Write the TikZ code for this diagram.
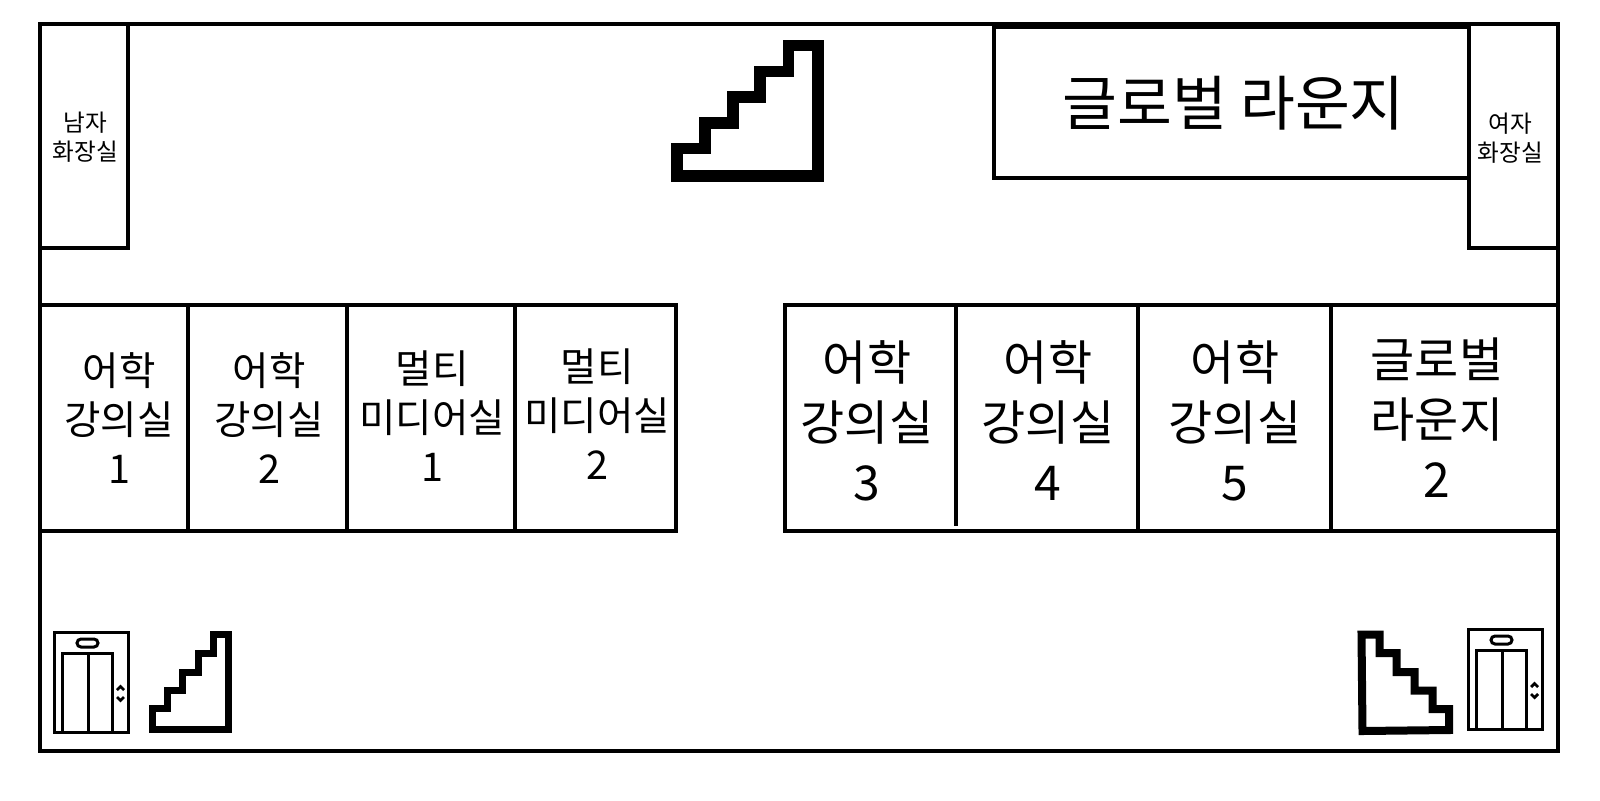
\documentclass[tikz,border=0pt]{standalone}
\usepackage{fontspec}
\setmainfont{Noto Sans CJK KR}
\tikzset{
    elevator/.pic = {
        \draw[line width=1.5pt] (1,0) rectangle (75,100);
        \draw[line width=1.5pt] (9,100) -- (9,21) -- (59,21) -- (59,100);
        \draw[line width=1.5pt] (35,21) -- (35,100);
        \draw[line width=1.5pt, rounded corners=2pt] (24,7) rectangle (45,15);
        \draw[line width=1.4pt] (64,58) -- (67.5,54.5) -- (71,58);
        \draw[line width=1.4pt] (64,65) -- (67.5,68.5) -- (71,65);
    }
}
\begin{document}
\begin{tikzpicture}[x=0.5pt,y=-0.5pt]
        \tikzset{wall/.style = {line width=2pt}}
        \tikzset{stair/.style = {miter limit=10}}
        \tikzset{smalllabel/.style = {align=center, inner sep=0pt, font=\fontsize{11.8pt}{14.2pt}\selectfont}}
        \tikzset{leftlabel/.style = {align=center, inner sep=0pt, font=\fontsize{19.8pt}{24.5pt}\selectfont}}
        \tikzset{rightlabel/.style = {align=center, inner sep=0pt, font=\fontsize{24pt}{30pt}\selectfont}}

        \useasboundingbox (0,0) rectangle (1600,800);
        \fill[white] (0,0) rectangle (1600,800);

        % outer frame and top rooms
        \draw[wall] (40,23.5) rectangle (1558,751);
        \draw[wall] (40,23.5) rectangle (128,248);
        \draw[wall] (1469,23.5) rectangle (1558,248);
        \draw[wall] (994,26.5) rectangle (1469,178);

        % left row
        \draw[wall] (40,305) rectangle (676,531);
        \draw[wall] (188,305) -- (188,531);
        \draw[wall] (347,305) -- (347,531);
        \draw[wall] (515,305) -- (515,531);

        % right row
        \draw[wall] (785,305) rectangle (1558,531);
        \draw[wall] (956,305) -- (956,526);
        \draw[wall] (1138,305) -- (1138,531);
        \draw[wall] (1331,305) -- (1331,531);

        \node[smalllabel] (wcmale) at (85.5,137) {남자\\화장실};
        \node[smalllabel] (wcfemale) at (1510.5,138) {여자\\화장실};
        \node[inner sep=0pt, font=\fontsize{29.8pt}{34pt}\selectfont] (lounge) at (1233.5,103) {글로벌 라운지};

        \node[leftlabel] (room1) at (119,418) {어학\\강의실\\1};
        \node[leftlabel] (room2) at (269,418) {어학\\강의실\\2};
        \node[leftlabel] (media1) at (432,416) {멀티\\미디어실\\1};
        \node[leftlabel] (media2) at (597,414) {멀티\\미디어실\\2};

        \node[rightlabel] (room3) at (867,421) {어학\\강의실\\3};
        \node[rightlabel] (room4) at (1048,421) {어학\\강의실\\4};
        \node[rightlabel] (room5) at (1235,421) {어학\\강의실\\5};
        \node[rightlabel] (lounge2) at (1437,418) {글로벌\\라운지\\2};

        % stairs
        \draw[stair, line width=5.75pt] (677,176) -- (677,148.5) -- (705,148.5) -- (705,123) -- (733,123) -- (733,97) -- (760,97) -- (760,71.5) -- (788.5,71.5) -- (788.5,45.5) -- (818,45.5) -- (818,176) -- cycle;
        \draw[stair, line width=3.5pt] (152.5,729) -- (152.5,708.5) -- (167,708.5) -- (167,690.5) -- (182.5,690.5) -- (182.5,672) -- (198,672) -- (198,653) -- (213,653) -- (213,634) -- (228.5,634) -- (228.5,729) -- cycle;
        \draw[stair, line width=4pt] (1361.5,634.5) -- (1379.5,634.5) -- (1379.5,653) -- (1396.5,653) -- (1396.5,672) -- (1414.5,672) -- (1414.5,690.5) -- (1432.5,690.5) -- (1432.5,709) -- (1449,709) -- (1449,730) -- (1362.5,731) -- cycle;

        % elevators
        \pic at (53,632) {elevator};
        \pic at (1467,629) {elevator};
\end{tikzpicture}
\end{document}
